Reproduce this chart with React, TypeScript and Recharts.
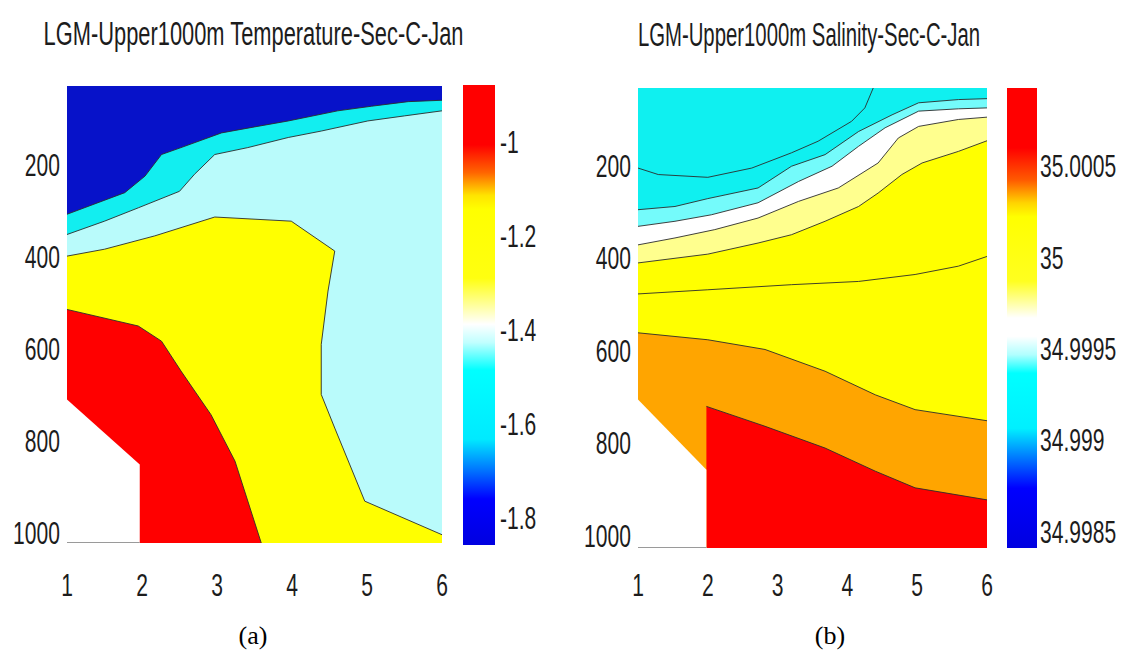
import React from 'react';
import { ComposedChart, Area, Line, XAxis, YAxis, CartesianGrid } from 'recharts';

type P = { x: number; d: number };

// ---------- axes ----------
const xTicks = [1, 2, 3, 4, 5, 6];
const depthTicks = [200, 400, 600, 800, 1000];
const tempDepthDomain: [number, number] = [28, 1022];
const salDepthDomain: [number, number] = [32, 1026];

// ---------- (a) temperature contours (station, depth) ----------
const tempBlueLine: P[] = [
  { x: 1.0, d: 307 }, { x: 1.77, d: 260 }, { x: 2.04, d: 224 }, { x: 2.26, d: 177 },
  { x: 2.52, d: 162 }, { x: 3.06, d: 130 }, { x: 3.5, d: 117 }, { x: 3.95, d: 104 },
  { x: 4.61, d: 82 }, { x: 5.06, d: 72 }, { x: 5.55, d: 62 }, { x: 6.0, d: 59 },
];
const tempCyanLine: P[] = [
  { x: 1.0, d: 351 }, { x: 1.5, d: 322 }, { x: 1.95, d: 293 }, { x: 2.5, d: 257 },
  { x: 2.7, d: 220 }, { x: 2.97, d: 177 }, { x: 3.41, d: 162 }, { x: 3.95, d: 140 },
  { x: 4.39, d: 126 }, { x: 5.01, d: 104 }, { x: 5.5, d: 93 }, { x: 6.0, d: 82 },
];
const tempYellowLine: P[] = [
  { x: 1.0, d: 398 }, { x: 1.5, d: 383 }, { x: 2.17, d: 354 }, { x: 2.97, d: 313 },
  { x: 3.99, d: 322 }, { x: 4.57, d: 387 }, { x: 4.48, d: 474 }, { x: 4.39, d: 590 },
  { x: 4.39, d: 699 }, { x: 4.57, d: 772 }, { x: 4.97, d: 931 }, { x: 6.0, d: 1004 },
];
const tempRedLine: P[] = [
  { x: 1.0, d: 514 }, { x: 1.95, d: 550 }, { x: 2.26, d: 583 }, { x: 2.52, d: 648 },
  { x: 2.92, d: 743 }, { x: 3.24, d: 844 }, { x: 3.59, d: 1022 },
];
const tempNaN: P[] = [{ x: 1.0, d: 710 }, { x: 1.97, d: 851 }, { x: 1.97, d: 1022 }];
const tempNaNBottom: P[] = [{ x: 1.0, d: 1022 }, { x: 1.97, d: 1022 }];

// ---------- (b) salinity contours ----------
const salL1: P[] = [
  { x: 1.0, d: 205 }, { x: 1.29, d: 219 }, { x: 2.0, d: 225 }, { x: 2.63, d: 205 },
  { x: 3.2, d: 172 }, { x: 3.58, d: 147 }, { x: 4.06, d: 104 }, { x: 4.25, d: 75 }, { x: 4.37, d: 32 },
];
const salL2: P[] = [
  { x: 1.0, d: 295 }, { x: 1.53, d: 288 }, { x: 2.0, d: 271 }, { x: 2.72, d: 248 },
  { x: 3.2, d: 201 }, { x: 3.68, d: 176 }, { x: 4.16, d: 126 }, { x: 4.64, d: 90 },
  { x: 5.02, d: 64 }, { x: 5.59, d: 57 }, { x: 6.0, d: 55 },
];
const salL3: P[] = [
  { x: 1.0, d: 331 }, { x: 1.53, d: 320 }, { x: 2.05, d: 306 }, { x: 2.72, d: 280 },
  { x: 3.3, d: 234 }, { x: 3.78, d: 201 }, { x: 4.16, d: 158 }, { x: 4.54, d: 118 },
  { x: 5.02, d: 82 }, { x: 5.59, d: 77 }, { x: 6.0, d: 75 },
];
const salL4: P[] = [
  { x: 1.0, d: 371 }, { x: 1.53, d: 356 }, { x: 2.1, d: 338 }, { x: 2.72, d: 313 },
  { x: 3.3, d: 277 }, { x: 3.87, d: 248 }, { x: 4.44, d: 194 }, { x: 4.73, d: 140 },
  { x: 5.02, d: 115 }, { x: 5.59, d: 100 }, { x: 6.0, d: 95 },
];
const salL5: P[] = [
  { x: 1.0, d: 410 }, { x: 2.0, d: 391 }, { x: 2.72, d: 367 }, { x: 3.2, d: 349 },
  { x: 3.68, d: 320 }, { x: 4.16, d: 288 }, { x: 4.44, d: 259 }, { x: 4.78, d: 219 },
  { x: 5.07, d: 194 }, { x: 5.59, d: 169 }, { x: 6.0, d: 146 },
];
const salL6: P[] = [
  { x: 1.0, d: 477 }, { x: 2.0, d: 468 }, { x: 3.2, d: 457 }, { x: 4.16, d: 450 },
  { x: 4.97, d: 435 }, { x: 5.59, d: 417 }, { x: 6.0, d: 396 },
];
const salL7: P[] = [
  { x: 1.0, d: 561 }, { x: 2.0, d: 576 }, { x: 2.82, d: 597 }, { x: 3.68, d: 644 },
  { x: 4.4, d: 695 }, { x: 4.97, d: 727 }, { x: 6.0, d: 751 },
];
const salL8: P[] = [
  { x: 1.98, d: 720 }, { x: 2.82, d: 763 }, { x: 3.68, d: 810 }, { x: 4.4, d: 860 },
  { x: 4.97, d: 896 }, { x: 6.0, d: 922 },
];
const salNaN: P[] = [{ x: 1.0, d: 705 }, { x: 1.98, d: 857 }, { x: 1.98, d: 1026 }];
const salNaNBottom: P[] = [{ x: 1.0, d: 1026 }, { x: 1.98, d: 1026 }];

// ---------- colorbars ----------
const tempCbTicks = [-1, -1.2, -1.4, -1.6, -1.8];
const tempCbRange: [number, number] = [-1.857, -0.879];
const salCbTicks = [35.0005, 35, 34.9995, 34.999, 34.9985];
const salCbRange: [number, number] = [34.99841, 35.00093];
const tempCbData = [{ x: 0, v: tempCbRange[1] }, { x: 1, v: tempCbRange[1] }];
const salCbData = [{ x: 0, v: salCbRange[1] }, { x: 1, v: salCbRange[1] }];

const titleTemp = 'LGM-Upper1000m Temperature-Sec-C-Jan';
const titleSal = 'LGM-Upper1000m Salinity-Sec-C-Jan';

const FONT = "'Liberation Sans', Arial, Helvetica, sans-serif";
const SX = 0.68;
const TICK_SIZE = 31;
const CONTOUR = '#2b2b2b';

function CondText(props: { x: number; y: number; anchor: 'start' | 'middle' | 'end'; size?: number; sx?: number; children: any }) {
  const { x, y, anchor, children, size = TICK_SIZE, sx = SX } = props;
  return (
    <text
      x={x}
      y={y}
      textAnchor={anchor}
      fontSize={size}
      fontFamily={FONT}
      fill="#1c1c1c"
      transform={`translate(${x} 0) scale(${sx} 1) translate(${-x} 0)`}
    >
      {children}
    </text>
  );
}

const makeYTick = (rightEdge: number) => (p: any) => (
  <CondText x={rightEdge} y={p.y + 11} anchor="end">{String(p.payload.value)}</CondText>
);
const makeXTick = (baseline: number) => (p: any) => (
  <CondText x={p.x} y={baseline} anchor="middle">{String(p.payload.value)}</CondText>
);
const makeCbTick = (left: number) => (p: any) => (
  <CondText x={left} y={p.y + 11} anchor="start">{String(p.payload.value)}</CondText>
);

export default function App() {
  const area = (key: string, data: P[], base: number, fill: string, stroke: string = CONTOUR) => (
    <Area
      key={key}
      data={data}
      dataKey="d"
      type="linear"
      baseValue={base}
      fill={fill}
      fillOpacity={1}
      stroke={stroke}
      strokeWidth={0.9}
      dot={false}
      activeDot={false}
      isAnimationActive={false}
    />
  );
  const line = (key: string, data: P[], color: string = CONTOUR, width = 0.9) => (
    <Line
      key={key}
      data={data}
      dataKey="d"
      type="linear"
      stroke={color}
      strokeWidth={width}
      dot={false}
      activeDot={false}
      isAnimationActive={false}
    />
  );

  return (
    <div style={{ position: 'absolute', left: 0, top: 0, width: 1125, height: 665, background: '#fff', overflow: 'hidden' }}>
      {/* (a) temperature section */}
      <div style={{ position: 'absolute', left: 0, top: 0 }}>
        <ComposedChart width={460} height={640} margin={{ top: 86, right: 18, bottom: 37, left: 0 }}>
          <CartesianGrid fill="#b9fbfb" stroke="none" />
          <XAxis type="number" dataKey="x" domain={[1, 6]} ticks={xTicks} interval={0} allowDataOverflow height={60}
            axisLine={false} tickLine={false} tick={makeXTick(596)} />
          <YAxis type="number" dataKey="d" domain={tempDepthDomain} reversed ticks={depthTicks} interval={0} allowDataOverflow width={67}
            axisLine={false} tickLine={false} tick={makeYTick(60)} />
          {area('cyan', tempCyanLine, tempDepthDomain[0], '#12eef0')}
          {area('blue', tempBlueLine, tempDepthDomain[0], '#0712c9')}
          {area('yellow', tempYellowLine, tempDepthDomain[1], '#ffff00')}
          {area('red', tempRedLine, tempDepthDomain[1], '#ff0000')}
          {area('nan', tempNaN, tempDepthDomain[1], '#ffffff', 'none')}
          {line('bottom', tempNaNBottom, '#9a9a9a', 2)}
        </ComposedChart>
      </div>

      {/* (a) colorbar */}
      <div style={{ position: 'absolute', left: 463, top: 0 }}>
        <ComposedChart width={100} height={640} margin={{ top: 85, right: 0, bottom: 95, left: 0 }}>
          <defs>
            <linearGradient id="tempGrad" x1="0" y1="0" x2="0" y2="1">
              <stop offset="0" stopColor="#ff0000" />
              <stop offset="0.13" stopColor="#ff0000" />
              <stop offset="0.19" stopColor="#ff6400" />
              <stop offset="0.24" stopColor="#ffe400" />
              <stop offset="0.27" stopColor="#ffff00" />
              <stop offset="0.42" stopColor="#ffff10" />
              <stop offset="0.52" stopColor="#ffffff" />
              <stop offset="0.56" stopColor="#c0ffff" />
              <stop offset="0.62" stopColor="#00ffff" />
              <stop offset="0.77" stopColor="#00eaff" />
              <stop offset="0.84" stopColor="#0070ff" />
              <stop offset="0.9" stopColor="#0000ff" />
              <stop offset="1" stopColor="#0000e0" />
            </linearGradient>
          </defs>
          <XAxis type="number" dataKey="x" domain={[0, 1]} hide />
          <YAxis type="number" orientation="right" domain={tempCbRange} ticks={tempCbTicks} interval={0} allowDataOverflow width={68}
            axisLine={false} tickLine={false} tick={makeCbTick(37)} />
          <Area data={tempCbData} dataKey="v" type="linear" baseValue={tempCbRange[0]} fill="url(#tempGrad)" fillOpacity={1}
            stroke="none" dot={false} activeDot={false} isAnimationActive={false} />
        </ComposedChart>
      </div>

      {/* (b) salinity section */}
      <div style={{ position: 'absolute', left: 560, top: 0 }}>
        <ComposedChart width={440} height={640} margin={{ top: 88, right: 13, bottom: 32, left: 0 }}>
          <CartesianGrid fill="#ffff00" stroke="none" />
          <XAxis type="number" dataKey="x" domain={[1, 6]} ticks={xTicks} interval={0} allowDataOverflow height={60}
            axisLine={false} tickLine={false} tick={makeXTick(596)} />
          <YAxis type="number" dataKey="d" domain={salDepthDomain} reversed ticks={depthTicks} interval={0} allowDataOverflow width={78}
            axisLine={false} tickLine={false} tick={makeYTick(71)} />
          {area('paleYellow', salL5, salDepthDomain[0], '#ffff8e')}
          {area('white', salL4, salDepthDomain[0], '#ffffff')}
          {area('lightCyan', salL3, salDepthDomain[0], '#74fbfb')}
          {area('cyan', salL2, salDepthDomain[0], '#0ff0f0')}
          {line('l1', salL1)}
          {line('l6', salL6)}
          {area('orange', salL7, salDepthDomain[1], '#ffa500')}
          {area('red', salL8, salDepthDomain[1], '#ff0000')}
          {area('nan', salNaN, salDepthDomain[1], '#ffffff', 'none')}
          {line('bottom', salNaNBottom, '#9a9a9a', 2)}
        </ComposedChart>
      </div>

      {/* (b) colorbar */}
      <div style={{ position: 'absolute', left: 1007, top: 0 }}>
        <ComposedChart width={118} height={640} margin={{ top: 88, right: 0, bottom: 92, left: 0 }}>
          <defs>
            <linearGradient id="salGrad" x1="0" y1="0" x2="0" y2="1">
              <stop offset="0" stopColor="#ff0000" />
              <stop offset="0.13" stopColor="#ff0000" />
              <stop offset="0.2" stopColor="#ff5a00" />
              <stop offset="0.25" stopColor="#ffd400" />
              <stop offset="0.28" stopColor="#ffff00" />
              <stop offset="0.42" stopColor="#ffff20" />
              <stop offset="0.5" stopColor="#ffffff" />
              <stop offset="0.54" stopColor="#ffffff" />
              <stop offset="0.58" stopColor="#b0ffff" />
              <stop offset="0.62" stopColor="#00ffff" />
              <stop offset="0.74" stopColor="#00f0ff" />
              <stop offset="0.8" stopColor="#0080ff" />
              <stop offset="0.87" stopColor="#0000ff" />
              <stop offset="1" stopColor="#0000e0" />
            </linearGradient>
          </defs>
          <XAxis type="number" dataKey="x" domain={[0, 1]} hide />
          <YAxis type="number" orientation="right" domain={salCbRange} ticks={salCbTicks} interval={0} allowDataOverflow width={88}
            axisLine={false} tickLine={false} tick={makeCbTick(33)} />
          <Area data={salCbData} dataKey="v" type="linear" baseValue={salCbRange[0]} fill="url(#salGrad)" fillOpacity={1}
            stroke="none" dot={false} activeDot={false} isAnimationActive={false} />
        </ComposedChart>
      </div>

      {/* titles and panel labels, on top */}
      <svg width={1125} height={665} style={{ position: 'absolute', left: 0, top: 0, pointerEvents: 'none' }}>
        <CondText x={253.5} y={45} anchor="middle" size={34} sx={0.643}>{titleTemp}</CondText>
        <CondText x={809} y={46} anchor="middle" size={34} sx={0.598}>{titleSal}</CondText>
        <text x={253} y={644} textAnchor="middle" fontSize={26} fontFamily="'Liberation Serif', 'Times New Roman', serif" fill="#000">
          (a)
        </text>
        <text x={830} y={644} textAnchor="middle" fontSize={26} fontFamily="'Liberation Serif', 'Times New Roman', serif" fill="#000">
          (b)
        </text>
      </svg>
    </div>
  );
}
